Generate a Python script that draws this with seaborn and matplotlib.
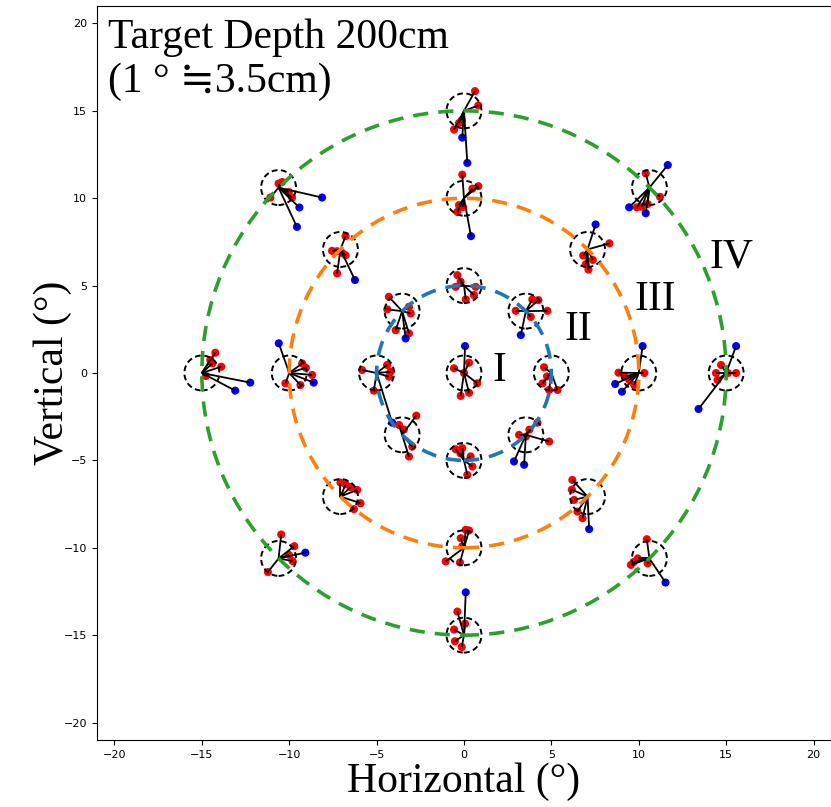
import matplotlib
matplotlib.use("Agg")
import matplotlib.pyplot as plt
import seaborn as sns
import pandas as pd
from matplotlib.patches import Circle
from matplotlib.collections import LineCollection

# ---------------- data ----------------
target_x = [0, 5, 3.54, 0, -3.54, -5, -3.54, 0, 3.54,
            10, 7.07, 0, -7.07, -10, -7.07, 0, 7.07,
            15, 10.61, 0, -10.61, -15, -10.61, 0, 10.61]
target_y = [0, 0, 3.54, 5, 3.54, 0, -3.54, -5, -3.54,
            0, 7.07, 10, 7.07, 0, -7.07, -10, -7.07,
            0, 10.61, 15, 10.61, 0, -10.61, -15, -10.61]

red_dx = [
    [0.29, -0.57, 0.0, 0.76, 0.29, -0.19],
    [-0.42, -0.51, -0.13, 0.35, -0.25],
    [0.37, 0.72, 1.23, -0.58, 0.28],
    [-0.38, -0.19, 0.67, 0.57, 0.1, -0.48],
    [-0.76, -0.85, 0.39, 0.49, -0.37, 0.39],
    [-0.83, 0.6, 0.8, 0.7, -0.16],
    [0.81, -0.18, 0.58, 0.39, 0.1],
    [-0.48, -0.1, 0.38, 0.48, 0.19, -0.2],
    [0.66, 1.33, -0.39, 0.0, 0.2],
    [-1.16, 0.32, -0.54, -0.26, -0.8],
    [-0.25, -0.1, 0.05, 1.25, 0.3],
    [-0.1, 0.82, 0.48, -0.29, -0.38, -0.06],
    [0.29, -0.48, 0.29, -0.19, -0.2, 0.1],
    [0.74, 1.31, 0.64, -0.22, 0.95],
    [0.0, 0.58, 0.96, 1.15, 0.77, 0.3],
    [0.1, 0.29, -0.19, -0.1, -1.05, -0.23],
    [-0.87, -0.77, -0.58, -0.29, -0.9],
    [-0.29, 0.57, -0.58, -0.49, 0.1],
    [-0.21, 0.61, -0.72, -0.44, -0.1],
    [0.63, 0.82, -0.13, -0.29, -0.57],
    [0.0, -0.47, 0.58, 0.77, 0.2],
    [0.77, 0.48, 1.11, 0.6, 0.23],
    [0.15, 0.9, 0.8, -0.61, 0.6],
    [-0.38, 0.06, -0.57, -0.52, -0.13],
    [-0.15, -1.06, -0.67, -0.1, -0.9],
]
red_dy = [
    [0.59, 0.27, 0.0, -0.59, -1.13, -1.31],
    [0.33, -0.59, -0.97, -0.97, -0.2],
    [0.67, 0.63, 0.02, 0.02, -0.33],
    [0.6, 0.22, -0.07, -0.54, -0.79, -0.07],
    [0.82, 0.1, 0.25, -0.13, -1.09, -1.27],
    [0.17, 0.46, 0.07, -0.21, -1.01],
    [1.1, 0.57, -0.67, -1.24, 0.3],
    [0.64, 0.7, 0.23, -0.35, -0.83, 0.4],
    [0.7, -0.38, 0.0, -0.1, 0.3],
    [0.02, 0.0, -0.4, -0.69, -0.2],
    [-0.35, -0.85, -1.15, 0.35, -0.6],
    [1.35, 0.69, 0.55, -0.4, -0.78, -0.5],
    [0.76, -0.08, -0.33, -1.37, -0.1, -0.2],
    [0.55, -0.11, -0.69, -0.59, 0.3],
    [0.8, 0.54, 0.38, -0.38, -0.72, 0.7],
    [1.03, 0.99, 0.55, 0.08, -0.78, -0.84],
    [0.95, -0.19, -0.86, -1.24, 0.4],
    [0.46, 0.0, 0.0, -0.4, 0.0],
    [0.81, -0.53, -1.13, -1.1, -0.94],
    [1.13, 0.31, -0.54, -0.7, -1.07],
    [0.23, -0.57, -0.25, -0.57, 0.32],
    [1.16, 0.74, 0.36, 0.55, -0.17],
    [1.37, 0.7, -0.15, -0.78, 0.2],
    [1.35, 0.66, 0.32, -0.35, -0.68],
    [1.1, -0.37, 0.0, -0.28, -0.2],
]
blue_dx = [
    [0.06], [], [-0.29], [], [0.2], [0.89], [], [], [-0.68, -0.1],
    [0.22, -1.35, -0.96], [0.46], [0.4], [0.83], [-0.6, 1.4], [], [], [0.09],
    [0.57, -1.58], [1.05, -1.16, -0.21], [-0.1, 0.19], [2.49, 1.19, 1.05],
    [2.77, 1.91], [1.53], [0.1], [0.92],
]
blue_dy = [
    [1.54], [], [-1.37], [], [-1.56], [-2.84], [], [], [-1.52, -1.71],
    [1.54, -0.63, -1.07], [1.43], [-2.17], [-1.75], [1.7, -0.55], [], [], [-1.86],
    [1.54, -2.06], [1.29, -1.13, -1.47], [-1.53, -2.98], [-0.57, -1.14, -2.25],
    [-0.55, -1.01], [0.33], [2.45], [-1.38],
]

ring_radii = [5, 10, 15]
ring_colors = ["#1f77b4", "#ff7f0e", "#2ca02c"]
target_radius = 1.0

zone_labels = ["I", "II", "III", "IV"]
zone_x = [2.05, 6.55, 10.95, 15.3]
zone_y = [0.15, 2.5, 4.2, 6.6]

tick_vals = [-20, -15, -10, -5, 0, 5, 10, 15, 20]

# ---------------- build table ----------------
rows = []
for i in range(len(target_x)):
    for dx, dy in zip(red_dx[i], red_dy[i]):
        rows.append(dict(target=i, tx=target_x[i], ty=target_y[i],
                         x=target_x[i] + dx, y=target_y[i] + dy, kind="red"))
    for dx, dy in zip(blue_dx[i], blue_dy[i]):
        rows.append(dict(target=i, tx=target_x[i], ty=target_y[i],
                         x=target_x[i] + dx, y=target_y[i] + dy, kind="blue"))
df = pd.DataFrame(rows)

# ---------------- plot ----------------
sns.set_style("ticks", {"axes.edgecolor": "black", "xtick.color": "black",
                        "ytick.color": "black", "axes.linewidth": 1.0,
                        "text.color": "black", "axes.labelcolor": "black"})
serif = ["Liberation Serif", "Noto Sans CJK JP", "DejaVu Serif"]

fig = plt.figure(figsize=(8.31, 8.07), dpi=100)
ax = fig.add_axes([97 / 831, 67 / 807, 734 / 831, 734 / 807])

sns.scatterplot(data=df, x="x", y="y", hue="kind",
                palette={"red": "#ff0000", "blue": "#0000ff"},
                s=34, linewidth=0, legend=False, ax=ax, zorder=2)

segs = [[(r.tx, r.ty), (r.x, r.y)] for r in df.itertuples()]
ax.add_collection(LineCollection(segs, colors="black", linewidths=1.3, zorder=3))

for tx, ty in zip(target_x, target_y):
    ax.add_patch(Circle((tx, ty), target_radius, fill=False, ec="black",
                        lw=1.4, ls=(0, (3, 1.8)), zorder=2.5))

for r, c in zip(ring_radii, ring_colors):
    ax.add_patch(Circle((0, 0), r, fill=False, ec=c, lw=2.6,
                        ls=(0, (4.2, 2.8)), zorder=4))

for lab, x, y in zip(zone_labels, zone_x, zone_y):
    ax.text(x, y, lab, fontsize=30, family=serif, color="black",
            ha="center", va="center", zorder=5)

ax.text(-20.35, 20.3, "Target Depth 200cm\n(1 ° ≒3.5cm)", fontsize=30,
        family=serif, color="black", ha="left", va="top",
        linespacing=1.2, zorder=5)

ax.set_xlim(-21, 21)
ax.set_ylim(-21, 21)
ax.set_aspect("equal")
ax.set_xticks(tick_vals)
ax.set_yticks(tick_vals)
ax.tick_params(labelsize=8, length=3.5, width=0.8)
ax.set_xlabel("Horizontal (°)", fontsize=30, family=serif, labelpad=2, color="black")
ax.set_ylabel("Vertical (°)", fontsize=30, family=serif, labelpad=-6, color="black")

fig.savefig("out.png", dpi=100)
